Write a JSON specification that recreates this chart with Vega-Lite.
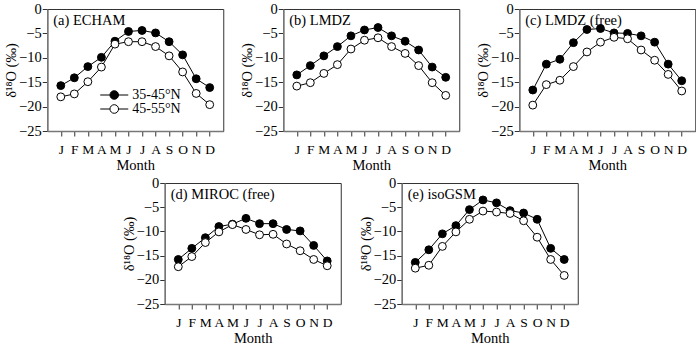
{
  "$schema": "https://vega.github.io/schema/vega-lite/v6.json",
  "padding": {"left": 3, "top": 0, "right": 0, "bottom": 0},
  "background": "white",
  "datasets": {
    "d": [
      {"panel": "a", "series": "35-45°N", "month": 1, "value": -15.7},
      {"panel": "a", "series": "35-45°N", "month": 2, "value": -14.1},
      {"panel": "a", "series": "35-45°N", "month": 3, "value": -11.8},
      {"panel": "a", "series": "35-45°N", "month": 4, "value": -9.9},
      {"panel": "a", "series": "35-45°N", "month": 5, "value": -6.6},
      {"panel": "a", "series": "35-45°N", "month": 6, "value": -4.6},
      {"panel": "a", "series": "35-45°N", "month": 7, "value": -4.4},
      {"panel": "a", "series": "35-45°N", "month": 8, "value": -4.9},
      {"panel": "a", "series": "35-45°N", "month": 9, "value": -6.7},
      {"panel": "a", "series": "35-45°N", "month": 10, "value": -9.4},
      {"panel": "a", "series": "35-45°N", "month": 11, "value": -14.3},
      {"panel": "a", "series": "35-45°N", "month": 12, "value": -16.1},
      {"panel": "a", "series": "45-55°N", "month": 1, "value": -18.0},
      {"panel": "a", "series": "45-55°N", "month": 2, "value": -17.4},
      {"panel": "a", "series": "45-55°N", "month": 3, "value": -14.9},
      {"panel": "a", "series": "45-55°N", "month": 4, "value": -11.9},
      {"panel": "a", "series": "45-55°N", "month": 5, "value": -7.2},
      {"panel": "a", "series": "45-55°N", "month": 6, "value": -6.7},
      {"panel": "a", "series": "45-55°N", "month": 7, "value": -6.7},
      {"panel": "a", "series": "45-55°N", "month": 8, "value": -7.7},
      {"panel": "a", "series": "45-55°N", "month": 9, "value": -9.6},
      {"panel": "a", "series": "45-55°N", "month": 10, "value": -12.9},
      {"panel": "a", "series": "45-55°N", "month": 11, "value": -17.3},
      {"panel": "a", "series": "45-55°N", "month": 12, "value": -19.6},

      {"panel": "b", "series": "35-45°N", "month": 1, "value": -13.5},
      {"panel": "b", "series": "35-45°N", "month": 2, "value": -11.6},
      {"panel": "b", "series": "35-45°N", "month": 3, "value": -9.6},
      {"panel": "b", "series": "35-45°N", "month": 4, "value": -7.7},
      {"panel": "b", "series": "35-45°N", "month": 5, "value": -5.5},
      {"panel": "b", "series": "35-45°N", "month": 6, "value": -4.3},
      {"panel": "b", "series": "35-45°N", "month": 7, "value": -3.8},
      {"panel": "b", "series": "35-45°N", "month": 8, "value": -5.5},
      {"panel": "b", "series": "35-45°N", "month": 9, "value": -6.6},
      {"panel": "b", "series": "35-45°N", "month": 10, "value": -8.4},
      {"panel": "b", "series": "35-45°N", "month": 11, "value": -11.9},
      {"panel": "b", "series": "35-45°N", "month": 12, "value": -14.0},
      {"panel": "b", "series": "45-55°N", "month": 1, "value": -15.8},
      {"panel": "b", "series": "45-55°N", "month": 2, "value": -15.1},
      {"panel": "b", "series": "45-55°N", "month": 3, "value": -13.2},
      {"panel": "b", "series": "45-55°N", "month": 4, "value": -11.4},
      {"panel": "b", "series": "45-55°N", "month": 5, "value": -8.2},
      {"panel": "b", "series": "45-55°N", "month": 6, "value": -6.4},
      {"panel": "b", "series": "45-55°N", "month": 7, "value": -5.9},
      {"panel": "b", "series": "45-55°N", "month": 8, "value": -7.7},
      {"panel": "b", "series": "45-55°N", "month": 9, "value": -9.1},
      {"panel": "b", "series": "45-55°N", "month": 10, "value": -11.6},
      {"panel": "b", "series": "45-55°N", "month": 11, "value": -15.1},
      {"panel": "b", "series": "45-55°N", "month": 12, "value": -17.7},

      {"panel": "c", "series": "35-45°N", "month": 1, "value": -16.6},
      {"panel": "c", "series": "35-45°N", "month": 2, "value": -11.3},
      {"panel": "c", "series": "35-45°N", "month": 3, "value": -10.3},
      {"panel": "c", "series": "35-45°N", "month": 4, "value": -6.9},
      {"panel": "c", "series": "35-45°N", "month": 5, "value": -4.2},
      {"panel": "c", "series": "35-45°N", "month": 6, "value": -4.0},
      {"panel": "c", "series": "35-45°N", "month": 7, "value": -4.9},
      {"panel": "c", "series": "35-45°N", "month": 8, "value": -5.0},
      {"panel": "c", "series": "35-45°N", "month": 9, "value": -5.5},
      {"panel": "c", "series": "35-45°N", "month": 10, "value": -6.8},
      {"panel": "c", "series": "35-45°N", "month": 11, "value": -11.3},
      {"panel": "c", "series": "35-45°N", "month": 12, "value": -14.7},
      {"panel": "c", "series": "45-55°N", "month": 1, "value": -19.7},
      {"panel": "c", "series": "45-55°N", "month": 2, "value": -15.5},
      {"panel": "c", "series": "45-55°N", "month": 3, "value": -14.6},
      {"panel": "c", "series": "45-55°N", "month": 4, "value": -11.8},
      {"panel": "c", "series": "45-55°N", "month": 5, "value": -8.8},
      {"panel": "c", "series": "45-55°N", "month": 6, "value": -6.8},
      {"panel": "c", "series": "45-55°N", "month": 7, "value": -5.8},
      {"panel": "c", "series": "45-55°N", "month": 8, "value": -6.1},
      {"panel": "c", "series": "45-55°N", "month": 9, "value": -8.4},
      {"panel": "c", "series": "45-55°N", "month": 10, "value": -10.5},
      {"panel": "c", "series": "45-55°N", "month": 11, "value": -13.4},
      {"panel": "c", "series": "45-55°N", "month": 12, "value": -16.8},

      {"panel": "d", "series": "35-45°N", "month": 1, "value": -15.8},
      {"panel": "d", "series": "35-45°N", "month": 2, "value": -13.5},
      {"panel": "d", "series": "35-45°N", "month": 3, "value": -11.3},
      {"panel": "d", "series": "35-45°N", "month": 4, "value": -9.0},
      {"panel": "d", "series": "35-45°N", "month": 5, "value": -8.5},
      {"panel": "d", "series": "35-45°N", "month": 6, "value": -7.3},
      {"panel": "d", "series": "35-45°N", "month": 7, "value": -8.4},
      {"panel": "d", "series": "35-45°N", "month": 8, "value": -8.4},
      {"panel": "d", "series": "35-45°N", "month": 9, "value": -9.6},
      {"panel": "d", "series": "35-45°N", "month": 10, "value": -9.9},
      {"panel": "d", "series": "35-45°N", "month": 11, "value": -12.9},
      {"panel": "d", "series": "35-45°N", "month": 12, "value": -16.1},
      {"panel": "d", "series": "45-55°N", "month": 1, "value": -17.3},
      {"panel": "d", "series": "45-55°N", "month": 2, "value": -15.2},
      {"panel": "d", "series": "45-55°N", "month": 3, "value": -12.3},
      {"panel": "d", "series": "45-55°N", "month": 4, "value": -10.1},
      {"panel": "d", "series": "45-55°N", "month": 5, "value": -8.6},
      {"panel": "d", "series": "45-55°N", "month": 6, "value": -9.6},
      {"panel": "d", "series": "45-55°N", "month": 7, "value": -10.7},
      {"panel": "d", "series": "45-55°N", "month": 8, "value": -10.6},
      {"panel": "d", "series": "45-55°N", "month": 9, "value": -12.6},
      {"panel": "d", "series": "45-55°N", "month": 10, "value": -14.0},
      {"panel": "d", "series": "45-55°N", "month": 11, "value": -15.8},
      {"panel": "d", "series": "45-55°N", "month": 12, "value": -17.1},

      {"panel": "e", "series": "35-45°N", "month": 1, "value": -16.4},
      {"panel": "e", "series": "35-45°N", "month": 2, "value": -13.8},
      {"panel": "e", "series": "35-45°N", "month": 3, "value": -10.5},
      {"panel": "e", "series": "35-45°N", "month": 4, "value": -8.8},
      {"panel": "e", "series": "35-45°N", "month": 5, "value": -5.5},
      {"panel": "e", "series": "35-45°N", "month": 6, "value": -3.5},
      {"panel": "e", "series": "35-45°N", "month": 7, "value": -4.1},
      {"panel": "e", "series": "35-45°N", "month": 8, "value": -5.7},
      {"panel": "e", "series": "35-45°N", "month": 9, "value": -6.2},
      {"panel": "e", "series": "35-45°N", "month": 10, "value": -7.5},
      {"panel": "e", "series": "35-45°N", "month": 11, "value": -13.5},
      {"panel": "e", "series": "35-45°N", "month": 12, "value": -15.8},
      {"panel": "e", "series": "45-55°N", "month": 1, "value": -17.6},
      {"panel": "e", "series": "45-55°N", "month": 2, "value": -17.0},
      {"panel": "e", "series": "45-55°N", "month": 3, "value": -13.1},
      {"panel": "e", "series": "45-55°N", "month": 4, "value": -10.1},
      {"panel": "e", "series": "45-55°N", "month": 5, "value": -7.5},
      {"panel": "e", "series": "45-55°N", "month": 6, "value": -5.8},
      {"panel": "e", "series": "45-55°N", "month": 7, "value": -6.0},
      {"panel": "e", "series": "45-55°N", "month": 8, "value": -6.3},
      {"panel": "e", "series": "45-55°N", "month": 9, "value": -7.8},
      {"panel": "e", "series": "45-55°N", "month": 10, "value": -11.2},
      {"panel": "e", "series": "45-55°N", "month": 11, "value": -15.8},
      {"panel": "e", "series": "45-55°N", "month": 12, "value": -19.1}
    ]
  },
  "data": {"name": "d"},
  "config": {
    "font": "Liberation Serif",
    "view": {"stroke": "#333", "strokeWidth": 1},
    "axis": {
      "grid": false,
      "labelFont": "Liberation Serif",
      "titleFont": "Liberation Serif",
      "labelFontSize": 14.5,
      "titleFontSize": 14.5,
      "titleFontWeight": "normal",
      "labelColor": "black",
      "titleColor": "black",
      "domainColor": "#777",
      "domainWidth": 1.5,
      "tickColor": "#333",
      "tickSize": 5,
      "labelPadding": 1,
      "labelOverlap": false,
      "labelBound": false,
      "tickCount": 30
    },
    "axisX": {"labelPadding": 6, "labelFontSize": 13.5, "titlePadding": 3, "labelFlush": false},
    "axisY": {"titlePadding": 0, "labelFlush": false},
    "title": {"font": "Liberation Serif", "fontSize": 14.5, "fontWeight": "normal", "color": "black", "anchor": "start", "frame": "group", "baseline": "top", "offset": -27, "dx": 6},
    "legend": {"labelFont": "Liberation Serif", "labelFontSize": 14, "labelColor": "black", "padding": 0}
  },
  "resolve": {"scale": {"fill": "independent"}, "legend": {"fill": "independent"}},
  "center": true,
  "spacing": 1,
  "vconcat": [
    {
      "bounds": "flush",
      "spacing": 60,
      "resolve": {"scale": {"fill": "independent"}, "legend": {"fill": "independent"}},
      "hconcat": [
        {
          "width": 176, "height": 122,
          "title": {"text": "(a) ECHAM"},
          "transform": [{"filter": "datum.panel === 'a'"}],
          "layer": [
            {"mark": {"type": "line", "color": "black", "strokeWidth": 1},
             "encoding": {
               "x": {"field": "month", "type": "quantitative", "scale": {"domain": [0, 13], "nice": false, "zero": false}, "axis": {"values": [1,2,3,4,5,6,7,8,9,10,11,12], "tickCount": 30, "labelOverlap": false, "labelExpr": "['J','F','M','A','M','J','J','A','S','O','N','D'][datum.value-1]", "title": "Month"}},
               "y": {"field": "value", "type": "quantitative", "scale": {"domain": [-25, 0], "nice": false, "zero": false}, "axis": {"values": [0,-5,-10,-15,-20,-25], "tickCount": 30, "labelOverlap": false, "title": "δ¹⁸O (‰)"}},
               "detail": {"field": "series"}}},
            {"mark": {"type": "circle", "stroke": "black", "strokeWidth": 1, "size": 62, "opacity": 1},
             "encoding": {
               "x": {"field": "month", "type": "quantitative"},
               "y": {"field": "value", "type": "quantitative"},
               "fill": {"field": "series", "type": "nominal", "scale": {"domain": ["35-45°N", "45-55°N"], "range": ["black", "white"]},
                 "legend": {"title": null, "orient": "none", "legendX": 60, "legendY": 79, "symbolType": "M-2.8,0L-0.86,0M0.86,0L2.8,0M0.86,0A0.86,0.86 0 1 1 -0.86,0A0.86,0.86 0 1 1 0.86,0", "symbolSize": 100, "symbolStrokeColor": "black", "symbolStrokeWidth": 1, "rowPadding": 0, "labelOffset": 11}}}}
          ]
        },
        {
          "width": 176, "height": 122,
          "title": {"text": "(b) LMDZ"},
          "transform": [{"filter": "datum.panel === 'b'"}],
          "layer": [
            {"mark": {"type": "line", "color": "black", "strokeWidth": 1},
             "encoding": {
               "x": {"field": "month", "type": "quantitative", "scale": {"domain": [0, 13], "nice": false, "zero": false}, "axis": {"values": [1,2,3,4,5,6,7,8,9,10,11,12], "tickCount": 30, "labelOverlap": false, "labelExpr": "['J','F','M','A','M','J','J','A','S','O','N','D'][datum.value-1]", "title": "Month"}},
               "y": {"field": "value", "type": "quantitative", "scale": {"domain": [-25, 0], "nice": false, "zero": false}, "axis": {"values": [0,-5,-10,-15,-20,-25], "tickCount": 30, "labelOverlap": false, "title": "δ¹⁸O (‰)"}},
               "detail": {"field": "series"}}},
            {"mark": {"type": "circle", "stroke": "black", "strokeWidth": 1, "size": 62, "opacity": 1},
             "encoding": {
               "x": {"field": "month", "type": "quantitative"},
               "y": {"field": "value", "type": "quantitative"},
               "fill": {"field": "series", "type": "nominal", "scale": {"domain": ["35-45°N", "45-55°N"], "range": ["black", "white"]}, "legend": null}}}
          ]
        },
        {
          "width": 176, "height": 122,
          "title": {"text": "(c) LMDZ (free)"},
          "transform": [{"filter": "datum.panel === 'c'"}],
          "layer": [
            {"mark": {"type": "line", "color": "black", "strokeWidth": 1},
             "encoding": {
               "x": {"field": "month", "type": "quantitative", "scale": {"domain": [0, 13], "nice": false, "zero": false}, "axis": {"values": [1,2,3,4,5,6,7,8,9,10,11,12], "tickCount": 30, "labelOverlap": false, "labelExpr": "['J','F','M','A','M','J','J','A','S','O','N','D'][datum.value-1]", "title": "Month"}},
               "y": {"field": "value", "type": "quantitative", "scale": {"domain": [-25, 0], "nice": false, "zero": false}, "axis": {"values": [0,-5,-10,-15,-20,-25], "tickCount": 30, "labelOverlap": false, "title": "δ¹⁸O (‰)"}},
               "detail": {"field": "series"}}},
            {"mark": {"type": "circle", "stroke": "black", "strokeWidth": 1, "size": 62, "opacity": 1},
             "encoding": {
               "x": {"field": "month", "type": "quantitative"},
               "y": {"field": "value", "type": "quantitative"},
               "fill": {"field": "series", "type": "nominal", "scale": {"domain": ["35-45°N", "45-55°N"], "range": ["black", "white"]}, "legend": null}}}
          ]
        }
      ]
    },
    {
      "bounds": "flush",
      "spacing": 61,
      "resolve": {"scale": {"fill": "independent"}, "legend": {"fill": "independent"}},
      "hconcat": [
        {
          "width": 176, "height": 121,
          "title": {"text": "(d) MIROC (free)"},
          "transform": [{"filter": "datum.panel === 'd'"}],
          "layer": [
            {"mark": {"type": "line", "color": "black", "strokeWidth": 1},
             "encoding": {
               "x": {"field": "month", "type": "quantitative", "scale": {"domain": [0, 13], "nice": false, "zero": false}, "axis": {"values": [1,2,3,4,5,6,7,8,9,10,11,12], "tickCount": 30, "labelOverlap": false, "labelExpr": "['J','F','M','A','M','J','J','A','S','O','N','D'][datum.value-1]", "title": "Month"}},
               "y": {"field": "value", "type": "quantitative", "scale": {"domain": [-25, 0], "nice": false, "zero": false}, "axis": {"values": [0,-5,-10,-15,-20,-25], "tickCount": 30, "labelOverlap": false, "title": "δ¹⁸O (‰)"}},
               "detail": {"field": "series"}}},
            {"mark": {"type": "circle", "stroke": "black", "strokeWidth": 1, "size": 62, "opacity": 1},
             "encoding": {
               "x": {"field": "month", "type": "quantitative"},
               "y": {"field": "value", "type": "quantitative"},
               "fill": {"field": "series", "type": "nominal", "scale": {"domain": ["35-45°N", "45-55°N"], "range": ["black", "white"]}, "legend": null}}}
          ]
        },
        {
          "width": 176, "height": 121,
          "title": {"text": "(e) isoGSM"},
          "transform": [{"filter": "datum.panel === 'e'"}],
          "layer": [
            {"mark": {"type": "line", "color": "black", "strokeWidth": 1},
             "encoding": {
               "x": {"field": "month", "type": "quantitative", "scale": {"domain": [0, 13], "nice": false, "zero": false}, "axis": {"values": [1,2,3,4,5,6,7,8,9,10,11,12], "tickCount": 30, "labelOverlap": false, "labelExpr": "['J','F','M','A','M','J','J','A','S','O','N','D'][datum.value-1]", "title": "Month"}},
               "y": {"field": "value", "type": "quantitative", "scale": {"domain": [-25, 0], "nice": false, "zero": false}, "axis": {"values": [0,-5,-10,-15,-20,-25], "tickCount": 30, "labelOverlap": false, "title": "δ¹⁸O (‰)"}},
               "detail": {"field": "series"}}},
            {"mark": {"type": "circle", "stroke": "black", "strokeWidth": 1, "size": 62, "opacity": 1},
             "encoding": {
               "x": {"field": "month", "type": "quantitative"},
               "y": {"field": "value", "type": "quantitative"},
               "fill": {"field": "series", "type": "nominal", "scale": {"domain": ["35-45°N", "45-55°N"], "range": ["black", "white"]}, "legend": null}}}
          ]
        }
      ]
    }
  ]
}
